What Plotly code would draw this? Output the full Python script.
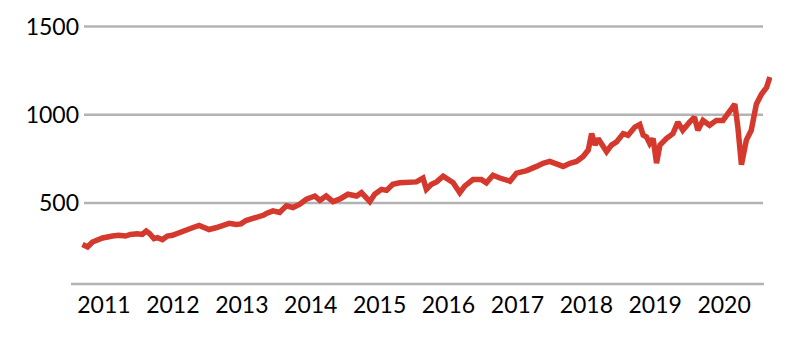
import plotly.graph_objects as go

# ---- data ----
dates = [
    "2010-09-09", "2010-10-06", "2010-11-01", "2010-12-25", "2011-02-15", "2011-03-20",
    "2011-04-25", "2011-05-21", "2011-06-26", "2011-07-23", "2011-08-13", "2011-09-01",
    "2011-09-23", "2011-10-11", "2011-11-07", "2011-12-03", "2011-12-30", "2012-01-26",
    "2012-03-01", "2012-04-14", "2012-05-19", "2012-06-15", "2012-07-11", "2012-08-16",
    "2012-09-21", "2012-10-26", "2012-12-01", "2012-12-27", "2013-01-23", "2013-02-28",
    "2013-03-24", "2013-04-28", "2013-05-11", "2013-06-15", "2013-07-20", "2013-08-25",
    "2013-09-29", "2013-11-04", "2013-12-09", "2014-01-23", "2014-02-19", "2014-03-24",
    "2014-04-29", "2014-06-03", "2014-07-17", "2014-09-01", "2014-09-27", "2014-11-10",
    "2014-12-06", "2015-01-11", "2015-02-07", "2015-03-12", "2015-04-17", "2015-06-01",
    "2015-07-15", "2015-08-19", "2015-09-06", "2015-10-03", "2015-10-30", "2015-12-04",
    "2015-12-31", "2016-01-26", "2016-03-01", "2016-03-27", "2016-05-10", "2016-06-24",
    "2016-07-20", "2016-08-24", "2016-09-29", "2016-11-22", "2016-12-27", "2017-02-19",
    "2017-04-12", "2017-05-16", "2017-06-21", "2017-07-26", "2017-08-31", "2017-10-06",
    "2017-11-10", "2017-12-15", "2018-01-11", "2018-01-29", "2018-02-16", "2018-03-04",
    "2018-03-31", "2018-04-18", "2018-05-14", "2018-06-10", "2018-07-15", "2018-08-10",
    "2018-09-15", "2018-10-11", "2018-10-29", "2018-11-16", "2018-12-03", "2018-12-21",
    "2019-01-08", "2019-01-26", "2019-03-01", "2019-04-05", "2019-05-01", "2019-05-27",
    "2019-07-02", "2019-07-28", "2019-08-15", "2019-09-11", "2019-10-16", "2019-11-21",
    "2019-12-26", "2020-01-22", "2020-02-27", "2020-03-14", "2020-04-02", "2020-04-28",
    "2020-05-24", "2020-06-20", "2020-07-17", "2020-08-13", "2020-08-31",
]
values = [
    264, 250, 278, 301, 312, 316,
    312, 321, 325, 321, 340, 325,
    297, 303, 292, 312, 316, 325,
    344, 359, 372, 362, 349, 359,
    368, 384, 377, 381, 400, 409,
    415, 431, 440, 455, 446, 483,
    474, 493, 521, 539, 515, 539,
    507, 521, 549, 539, 558, 507,
    549, 577, 571, 605, 614, 614,
    619, 641, 577, 605, 619, 651,
    632, 614, 558, 595, 632, 632,
    614, 657, 641, 623, 669, 683,
    707, 725, 735, 725, 707, 725,
    735, 763, 800, 893, 828, 865,
    828, 791, 828, 846, 893, 884,
    930, 945, 884, 874, 837, 865,
    725, 828, 865, 893, 958, 912,
    958, 986, 912, 968, 940, 968,
    968, 1005, 1060, 930, 716, 856,
    912, 1060, 1116, 1154, 1214,
]

year_ticks = ["2011-01-01", "2012-01-01", "2013-01-01", "2014-01-01", "2015-01-01",
              "2016-01-01", "2017-01-01", "2018-01-01", "2019-01-01", "2020-01-01"]
year_labels = ["2011", "2012", "2013", "2014", "2015", "2016", "2017", "2018", "2019", "2020"]
y_ticks = [500, 1000, 1500]
y_labels = ["500", "1000", "1500"]

RED = "#d5382c"
GRID = "#b3b3b3"
FONT = "Lato"
FS = 23

fig = go.Figure()
fig.add_trace(go.Scatter(
    x=dates, y=values, mode="lines",
    line=dict(color=RED, width=5.5, shape="linear"),
    hoverinfo="skip", showlegend=False,
))

W, H = 810, 346
ML, MR, MT, MB = 80, 38, 12, 62
pw = W - ML - MR

# gridlines (shorter than the plot area, as in the reference)
gx0 = (84 - ML) / pw
gx1 = (763 - ML) / pw
for v in y_ticks:
    fig.add_shape(type="line", xref="paper", yref="y", x0=gx0, x1=gx1, y0=v, y1=v,
                  line=dict(color=GRID, width=2.5), layer="below")
# bottom axis line
fig.add_shape(type="line", xref="paper", yref="paper", x0=(71 - ML) / pw, x1=(764 - ML) / pw,
              y0=0, y1=0, line=dict(color=GRID, width=2.5), layer="below")

fig.update_layout(
    width=W, height=H,
    margin=dict(l=ML, r=MR, t=MT, b=MB),
    paper_bgcolor="white", plot_bgcolor="white",
    font=dict(family=FONT, size=FS, color="black"),
    xaxis=dict(
        type="date", range=["2010-08-27", "2020-09-11"],
        tickvals=year_ticks, ticktext=year_labels,
        showgrid=False, zeroline=False, showline=False, ticks="",
        tickfont=dict(family=FONT, size=FS, color="black"),
        ticklabelstandoff=5,
        fixedrange=True,
    ),
    yaxis=dict(
        range=[40, 1560], tickvals=y_ticks, ticktext=y_labels,
        showgrid=False, zeroline=False, showline=False, ticks="",
        tickfont=dict(family=FONT, size=FS, color="black"),
        ticklabelstandoff=0,
        fixedrange=True,
    ),
)

fig.write_html("out.html")
